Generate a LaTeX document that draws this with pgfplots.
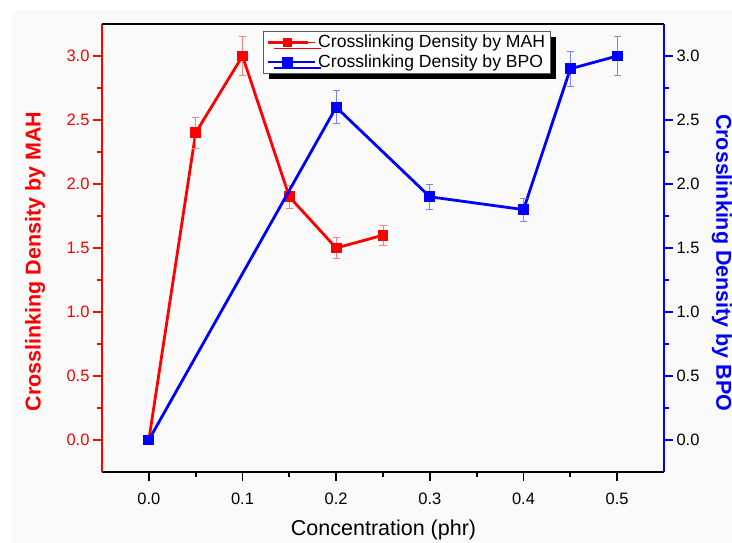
\documentclass[border=0pt]{standalone}
\usepackage{pgfplots}
\pgfplotsset{compat=1.18}
\usepackage{fontspec}
\setmainfont{Liberation Sans}
\usetikzlibrary{shadows}
\definecolor{bgc}{RGB}{250,250,250}
\begin{document}
\begin{tikzpicture}
\path[use as bounding box, fill=white] (-102bp,-71bp) rectangle (630bp,472bp);
\fill[bgc] (-90bp,-71bp) rectangle (630bp,462bp);
\pgfplotsset{
  common/.style={
    scale only axis, width=562bp, height=448bp,
    at={(0,0)}, anchor=south west,
    xmin=-0.05, xmax=0.55, ymin=-0.25, ymax=3.25,
    xtick={0,0.1,0.2,0.3,0.4,0.5},
    ytick={0,0.5,1,1.5,2,2.5,3},
    minor x tick num=1, minor y tick num=1,
    tick align=outside,
    major tick length=9bp, minor tick length=5bp,
    every tick/.style={line width=1.8bp},
    axis line style={-, line width=2.6bp},
    ticklabel style={font=\fontsize{16.5bp}{18bp}\selectfont},
    /pgf/number format/.cd, fixed, fixed zerofill, precision=1, assume math mode=true,
  }
}
\begin{axis}[common,
  axis x line*=bottom, axis y line*=left,
  x axis line style={black},
  y axis line style={red},
  ytick style={red}, yticklabel style={red},
  xticklabel style={yshift=-8bp},
  xlabel={Concentration (phr)},
  xlabel style={font=\fontsize{21.5bp}{24bp}\selectfont, at={(axis description cs:0.501,-0.129)}, anchor=center},
  ylabel={\bfseries Crosslinking Density by MAH},
  ylabel style={font=\fontsize{21.5bp}{24bp}\selectfont, red, at={(axis description cs:-0.119,0.47)}, anchor=center},
]
\addplot[red, line width=2.8bp, mark=square*, mark size=4bp, mark options={solid},
  error bars/.cd, y dir=both, y explicit,
  error bar style={red!50, line width=0.7bp},
  error mark options={rotate=90, red!50, mark size=3.5bp, line width=0.7bp}]
coordinates {
 (0,0) +- (0,0)
 (0.05,2.4) +- (0,0.12)
 (0.10,3.0) +- (0,0.15)
 (0.15,1.9) +- (0,0.09)
 (0.20,1.5) +- (0,0.08)
 (0.25,1.6) +- (0,0.08)
};
\end{axis}
\begin{axis}[common,
  axis x line*=top, axis y line*=right,
  xtick=\empty, minor x tick num=0,
  x axis line style={black},
  y axis line style={blue},
  ytick style={blue}, yticklabel style={black},
  ylabel={\bfseries Crosslinking Density by BPO},
  ylabel style={font=\fontsize{21.5bp}{24bp}\selectfont, blue, rotate=180, at={(axis description cs:1.103,0.467)}, anchor=center},
  legend style={at={(axis description cs:0.2865,0.985)}, anchor=north west,
    draw=gray!70!black, line width=0.8bp, fill=white,
    font=\fontsize{17.6bp}{20bp}\selectfont,
    drop shadow={shadow xshift=6bp, shadow yshift=-6bp, fill=black, opacity=1},
    row sep=1.5bp, inner xsep=3bp, inner ysep=2bp},
  legend cell align=left,
  legend image code/.code={\path (0bp,0bp) -- (47bp,0bp); \draw[#1, line width=2.8bp] (0bp,0bp) -- (40bp,0bp); \draw[#1, mark size=4bp, mark=square*] plot coordinates {(20bp,0bp)};},
]
\addlegendimage{red, mark=square*}
\addlegendentry{Crosslinking Density by MAH}
\addplot[blue, line width=2.8bp, mark=square*, mark size=4bp, mark options={solid},
  error bars/.cd, y dir=both, y explicit,
  error bar style={blue!50, line width=0.7bp},
  error mark options={rotate=90, blue!50, mark size=3.5bp, line width=0.7bp}]
coordinates {
 (0,0) +- (0,0)
 (0.20,2.6) +- (0,0.13)
 (0.30,1.9) +- (0,0.10)
 (0.40,1.8) +- (0,0.09)
 (0.45,2.9) +- (0,0.14)
 (0.50,3.0) +- (0,0.15)
};
\addlegendentry{Crosslinking Density by BPO}
\end{axis}
\end{tikzpicture}
\end{document}
